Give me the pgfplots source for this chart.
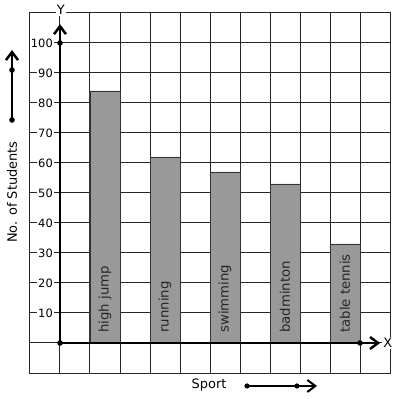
\documentclass[border=0pt]{standalone}
\usepackage{pgfplots}
\pgfplotsset{compat=1.18}
\usepackage{fontspec}
\setmainfont{DejaVu Sans}
\usetikzlibrary{arrows.meta}
\begin{document}
\begin{tikzpicture}
\begin{axis}[
 scale only axis, width=360bp, height=360bp,
 xmin=-1, xmax=11, ymin=-10, ymax=110,
 xtick={-1,0,...,11}, ytick={-10,0,...,110},
 xticklabels={}, yticklabels={},
 major tick length=0pt,
 grid=major,
 grid style={line width=1bp, black!85},
 axis line style={line width=1bp, black!85},
 clip=false,
]
\addplot[ybar, bar width=1, fill=black!40, draw=black!80, line width=0.8bp] coordinates {(1.5,84) (3.5,62) (5.5,57) (7.5,53) (9.5,33)};
% bar labels
\node[rotate=90, anchor=west, inner sep=0pt, text=black!85, font=\fontsize{13.3}{15}\selectfont] at (axis cs:1.5,3.4) {high jump};
\node[rotate=90, anchor=west, inner sep=0pt, text=black!85, font=\fontsize{13.3}{15}\selectfont] at (axis cs:3.5,3.4) {running};
\node[rotate=90, anchor=west, inner sep=0pt, text=black!85, font=\fontsize{13.3}{15}\selectfont] at (axis cs:5.5,3.4) {swimming};
\node[rotate=90, anchor=west, inner sep=0pt, text=black!85, font=\fontsize{13.3}{15}\selectfont] at (axis cs:7.5,3.4) {badminton};
\node[rotate=90, anchor=west, inner sep=0pt, text=black!85, font=\fontsize{13.3}{15}\selectfont] at (axis cs:9.5,3.4) {table tennis};
% y tick labels
\pgfplotsinvokeforeach{10,20,30,40,50,60,70,80,90,100}{
 \node[anchor=east, fill=white, inner sep=1bp, font=\fontsize{11.5}{13}\selectfont] at (axis cs:-0.2,#1) {#1};
}
% axes
\draw[line width=2.5bp, -{Straight Barb[length=8bp,width=12bp]}] (axis cs:0,0) -- (axis cs:0,106.3);
\draw[line width=2.5bp, -{Straight Barb[length=8bp,width=12bp]}] (axis cs:0,0) -- (axis cs:10.67,0);
\fill (axis cs:0,0) circle[radius=2.8bp];
\fill (axis cs:0,100) circle[radius=2.8bp];
\fill (axis cs:10,0) circle[radius=2.8bp];
\node[fill=white, inner sep=1bp, font=\fontsize{13}{15}\selectfont] at (axis cs:0.03,111) {Y};
\node[fill=white, inner sep=1bp, font=\fontsize{13}{15}\selectfont] at (axis cs:10.93,0) {X};
% left label and arrow
\node[rotate=90, font=\fontsize{13}{15}\selectfont] at (axis cs:-1.6,50.3) {No. of Students};
\draw[line width=2.5bp, -{Straight Barb[length=8bp,width=12bp]}] (axis cs:-1.6,74.33) -- (axis cs:-1.6,97.67);
\fill (axis cs:-1.6,74.33) circle[radius=2.8bp];
\fill (axis cs:-1.6,91) circle[radius=2.8bp];
% bottom label and arrow
\node[font=\fontsize{13}{15}\selectfont] at (axis cs:4.967,-14) {Sport};
\draw[line width=2bp, -{Straight Barb[length=8bp,width=12bp]}] (axis cs:6.233,-14.33) -- (axis cs:8.567,-14.33);
\fill (axis cs:6.233,-14.33) circle[radius=2.6bp];
\fill (axis cs:7.9,-14.33) circle[radius=2.6bp];
\coordinate (bl) at (axis cs:-2,-18.667);
\coordinate (tr) at (axis cs:11.2333,114.333);
\end{axis}
\pgfresetboundingbox
\path[use as bounding box] (bl) rectangle (tr);
\end{tikzpicture}
\end{document}
